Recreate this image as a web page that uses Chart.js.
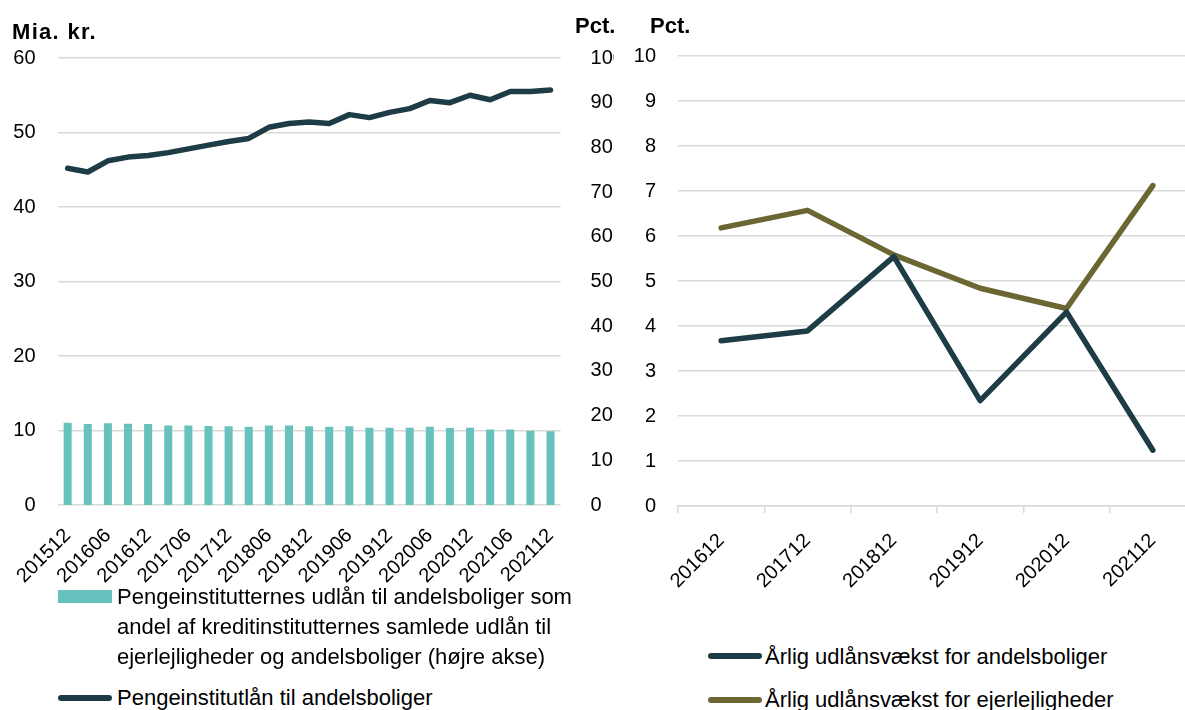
<!DOCTYPE html>
<html><head><meta charset="utf-8">
<script src="https://cdn.jsdelivr.net/npm/chart.js@4.4.1/dist/chart.umd.min.js"></script>
<style>
html,body{margin:0;padding:0;background:#fff;width:1185px;height:710px;overflow:hidden;font-family:"Liberation Sans",Arial,sans-serif;color:#000}
#c1{position:absolute;left:0;top:0}
#c2{position:absolute;left:614px;top:0}
.t{position:absolute;font-weight:bold;font-size:22px;line-height:26px;white-space:nowrap}
.lg{position:absolute;font-size:22px;line-height:30px;white-space:nowrap}
.sw{position:absolute}
</style></head><body>
<canvas id="c1" width="614" height="600"></canvas>
<canvas id="c2" width="582" height="600"></canvas>
<div class="t" style="left:12px;top:19px;letter-spacing:1.3px">Mia. kr.</div>
<div class="t" style="left:575px;top:13px">Pct.</div>
<div class="t" style="left:650px;top:13px">Pct.</div>

<div class="sw" style="left:58px;top:590px;width:54px;height:13px;background:#67c2bd"></div>
<div class="lg" style="left:117px;top:582px">Pengeinstitutternes udlån til andelsboliger som<br>andel af kreditinstitutternes samlede udlån til<br>ejerlejligheder og andelsboliger (højre akse)</div>
<div class="sw" style="left:58px;top:695px;width:54px;height:6px;border-radius:3px;background:#1d3c45"></div>
<div class="lg" style="left:117px;top:683px">Pengeinstitutlån til andelsboliger</div>

<div class="sw" style="left:708px;top:653px;width:54px;height:6px;border-radius:3px;background:#1d3c45"></div>
<div class="lg" style="left:765px;top:642px">Årlig udlånsvækst for andelsboliger</div>
<div class="sw" style="left:708px;top:697px;width:54px;height:6px;border-radius:3px;background:#6b6632"></div>
<div class="lg" style="left:765px;top:685px">Årlig udlånsvækst for ejerlejligheder</div>

<script>
const quarters = ['201512','201603','201606','201609','201612','201703','201706','201709','201712','201803','201806','201809','201812','201903','201906','201909','201912','202003','202006','202009','202012','202103','202106','202109','202112'];
const bankLoans = [45.2,44.7,46.2,46.7,46.9,47.3,47.8,48.3,48.8,49.2,50.7,51.2,51.4,51.2,52.4,52.0,52.7,53.2,54.3,54.0,55.0,54.4,55.5,55.5,55.7];
const bankShare = [18.4,18.1,18.3,18.2,18.1,17.8,17.8,17.7,17.6,17.5,17.8,17.8,17.6,17.5,17.6,17.3,17.3,17.3,17.5,17.2,17.3,16.9,16.9,16.6,16.5];
const years = ['201612','201712','201812','201912','202012','202112'];
const growthAndel = [3.67,3.89,5.54,2.34,4.31,1.24];
const growthEjer = [6.18,6.57,5.58,4.84,4.39,7.12];

const DARK = '#1d3c45', OLIVE = '#6b6632', TEAL = '#67c2bd', GRID = '#d9d9d9';
Chart.defaults.font.family = '"Liberation Sans", Arial, sans-serif';
Chart.defaults.font.size = 20;
Chart.defaults.color = '#000';
Chart.defaults.animation = false;

new Chart(document.getElementById('c1'), {
  data: {
    labels: quarters,
    datasets: [
      {type:'line', label:'Pengeinstitutlån til andelsboliger', data: bankLoans, yAxisID:'y',
       borderColor: DARK, borderWidth: 5.5, pointRadius: 0, tension: 0, borderCapStyle:'round', borderJoinStyle:'round', order: 0},
      {type:'bar', label:'Pengeinstitutternes udlån til andelsboliger som andel af kreditinstitutternes samlede udlån til ejerlejligheder og andelsboliger (højre akse)',
       data: bankShare, yAxisID:'y1', backgroundColor: TEAL, barPercentage: 0.4, categoryPercentage: 1, order: 1}
    ]
  },
  options: {
    responsive: false, devicePixelRatio: 1,
    layout: {padding: {top: 58, left: 0, right: 0, bottom: 0}},
    plugins: {legend: {display: false}, tooltip: {enabled: false}},
    scales: {
      x: {offset: true, grid: {display: false}, border: {display: false},
          ticks: {autoSkip: false, minRotation: 45, maxRotation: 45, padding: 11,
                  callback: (v, i) => i % 2 === 0 ? quarters[i] : ''},
          afterFit: s => { s.height = 95; }},
      y: {position: 'left', min: 0, max: 60, grid: {color: GRID, lineWidth: 1.5, drawTicks: false}, border: {display: false},
          ticks: {stepSize: 10, padding: 22}, afterFit: s => { s.width = 57.6; }},
      y1: {position: 'right', min: 0, max: 100, grid: {display: false, drawOnChartArea: false}, border: {display: false},
          ticks: {stepSize: 10, padding: 22}, afterFit: s => { s.width = 53.4; }}
    }
  }
});

new Chart(document.getElementById('c2'), {
  type: 'line',
  data: {
    labels: years,
    datasets: [
      {label:'Årlig udlånsvækst for andelsboliger', data: growthAndel, borderColor: DARK, borderWidth: 5.5, pointRadius: 0, tension: 0, borderCapStyle:'round', borderJoinStyle:'round', order: 0},
      {label:'Årlig udlånsvækst for ejerlejligheder', data: growthEjer, borderColor: OLIVE, borderWidth: 5.5, pointRadius: 0, tension: 0, borderCapStyle:'round', borderJoinStyle:'round', order: 1}
    ]
  },
  options: {
    responsive: false, devicePixelRatio: 1,
    layout: {padding: {top: 56, left: 0, right: 0, bottom: 0}},
    plugins: {legend: {display: false}, tooltip: {enabled: false}},
    scales: {
      x: {offset: true, grid: {display: true, offset: true, drawOnChartArea: false, drawTicks: true, tickLength: 7, color: GRID, lineWidth: 1.5},
          border: {display: true, color: GRID, width: 1.5},
          ticks: {autoSkip: false, minRotation: 45, maxRotation: 45, padding: 16},
          afterFit: s => { s.height = 94; }},
      y: {min: 0, max: 10, grid: {color: GRID, lineWidth: 1.5, drawTicks: false}, border: {display: false},
          ticks: {stepSize: 1, padding: 22}, afterFit: s => { s.width = 64; }}
    }
  }
});
</script>
</body></html>
